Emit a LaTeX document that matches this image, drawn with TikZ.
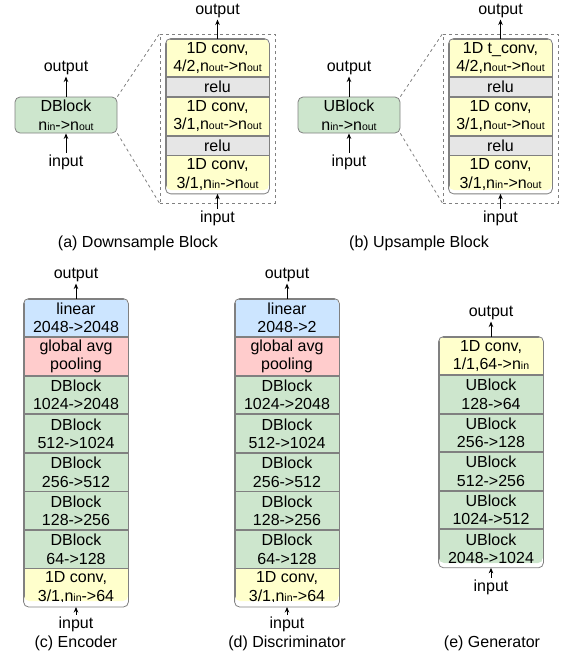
\documentclass[tikz,border=0pt]{standalone}
\usepackage{fontspec}
\setmainfont{Liberation Sans}
\usetikzlibrary{positioning,arrows.meta}
\definecolor{blkgreen}{HTML}{CDE6CD}
\definecolor{convyellow}{HTML}{FFFFCC}
\definecolor{relugray}{HTML}{E6E6E6}
\definecolor{linblue}{HTML}{CCE5FF}
\definecolor{poolred}{HTML}{FFCCCC}
\definecolor{edgegray}{HTML}{808080}
\newcommand{\sm}[1]{{\fontsize{10.5pt}{10.5pt}\selectfont #1}}
\begin{document}
\begin{tikzpicture}[x=1pt, y=-1pt,
font=\fontsize{16pt}{18.5pt}\selectfont,
layer/.style={rectangle, draw=edgegray, line width=0.8pt, inner sep=0pt, minimum width=104pt, minimum height=37.75pt, align=center},
convnode/.style={layer, fill=convyellow},
relunode/.style={layer, fill=relugray, minimum height=19pt},
blocknode/.style={layer, fill=blkgreen},
linnode/.style={layer, fill=linblue},
poolnode/.style={layer, fill=poolred},
txt/.style={inner sep=1.5pt},
to/.style={-{Stealth[length=5.5pt,width=4.5pt]},line width=0.9pt},
frame/.style={draw=edgegray, line width=0.8pt, rounded corners=5pt},
dashbox/.style={draw=edgegray, dashed, line width=0.8pt},
]
\useasboundingbox (0,0) rectangle (561,662);
%(a) downsample block
\node[blocknode, rounded corners=5pt, minimum width=102pt, minimum height=36pt](dblk) at (66,115) {DBlock\\n\sm{in}->n\sm{out}};
\node[txt](dout) at (66,68) {output};
\node[txt](din) at (66,162) {input};
\node[dashbox, minimum width=115pt, minimum height=169pt](dfrm) at (217.5,118.5) {};
\begin{scope}
\clip[rounded corners=5pt] (166,39) rectangle (269,190);
\node[convnode, minimum width=103pt](da1) at (217.5,57.875) {1D conv,\\4/2,n\sm{out}->n\sm{out}};
\node[relunode, minimum width=103pt, below=0pt of da1](da2) {relu};
\node[convnode, minimum width=103pt, below=0pt of da2](da3) {1D conv,\\3/1,n\sm{out}->n\sm{out}};
\node[relunode, minimum width=103pt, below=0pt of da3](da4) {relu};
\node[convnode, minimum width=103pt, below=0pt of da4](da5) {1D conv,\\3/1,n\sm{in}->n\sm{out}};
\end{scope}
\draw[frame] (da1.north west) rectangle (da5.south east);
\node[txt](daout) at (217.5,11) {output};
\node[txt](dain) at (217.5,218) {input};
\node(capa) at (138,243) {(a) Downsample Block};
%(b) upsample block
\node[blocknode, rounded corners=5pt, minimum width=102pt, minimum height=36pt](ublk) at (349,115) {UBlock\\n\sm{in}->n\sm{out}};
\node[txt](uout) at (349,68) {output};
\node[txt](uin) at (349,162) {input};
\node[dashbox, minimum width=115pt, minimum height=169pt](ufrm) at (500.5,118.5) {};
\begin{scope}
\clip[rounded corners=5pt] (449,39) rectangle (552,190);
\node[convnode, minimum width=103pt](ua1) at (500.5,57.875) {1D t\_conv,\\4/2,n\sm{out}->n\sm{out}};
\node[relunode, minimum width=103pt, below=0pt of ua1](ua2) {relu};
\node[convnode, minimum width=103pt, below=0pt of ua2](ua3) {1D conv,\\3/1,n\sm{out}->n\sm{out}};
\node[relunode, minimum width=103pt, below=0pt of ua3](ua4) {relu};
\node[convnode, minimum width=103pt, below=0pt of ua4](ua5) {1D conv,\\3/1,n\sm{in}->n\sm{out}};
\end{scope}
\draw[frame] (ua1.north west) rectangle (ua5.south east);
\node[txt](uaout) at (500.5,11) {output};
\node[txt](uain) at (500.5,218) {input};
\node(capb) at (419,243) {(b) Upsample Block};
%(c) encoder
\begin{scope}
\clip[rounded corners=5pt] (24,299) rectangle (128,601);
\node[linnode](e8) at (76,317.875) {linear\\2048->2048};
\node[poolnode, below=0pt of e8](e7) {global avg\\pooling};
\node[blocknode, below=0pt of e7](e6) {DBlock\\1024->2048};
\node[blocknode, below=0pt of e6](e5) {DBlock\\512->1024};
\node[blocknode, below=0pt of e5](e4) {DBlock\\256->512};
\node[blocknode, below=0pt of e4](e3) {DBlock\\128->256};
\node[blocknode, below=0pt of e3](e2) {DBlock\\64->128};
\node[convnode, below=0pt of e2](e1) {1D conv,\\3/1,n\sm{in}->64};
\end{scope}
\draw[frame] (e8.north west) rectangle (e1.south east);
\node[txt](eout) at (76,275) {output};
\node[txt](ein) at (76,624) {input};
\node(capc) at (76,643) {(c) Encoder};
%(d) discriminator
\begin{scope}
\clip[rounded corners=5pt] (235,299) rectangle (339,601);
\node[linnode](s8) at (287,317.875) {linear\\2048->2};
\node[poolnode, below=0pt of s8](s7) {global avg\\pooling};
\node[blocknode, below=0pt of s7](s6) {DBlock\\1024->2048};
\node[blocknode, below=0pt of s6](s5) {DBlock\\512->1024};
\node[blocknode, below=0pt of s5](s4) {DBlock\\256->512};
\node[blocknode, below=0pt of s4](s3) {DBlock\\128->256};
\node[blocknode, below=0pt of s3](s2) {DBlock\\64->128};
\node[convnode, below=0pt of s2](s1) {1D conv,\\3/1,n\sm{in}->64};
\end{scope}
\draw[frame] (s8.north west) rectangle (s1.south east);
\node[txt](sout) at (287,275) {output};
\node[txt](sin) at (287,624) {input};
\node(capd) at (287,643) {(d) Discriminator};
%(e) generator
\begin{scope}
\clip[rounded corners=5pt] (439,337) rectangle (543,563);
\node[convnode](g6) at (491,355.8) {1D conv,\\1/1,64->n\sm{in}};
\node[blocknode, below=0pt of g6](g5) {UBlock\\128->64};
\node[blocknode, below=0pt of g5](g4) {UBlock\\256->128};
\node[blocknode, below=0pt of g4](g3) {UBlock\\512->256};
\node[blocknode, below=0pt of g3](g2) {UBlock\\1024->512};
\node[blocknode, below=0pt of g2](g1) {UBlock\\2048->1024};
\end{scope}
\draw[frame] (g6.north west) rectangle (g1.south east);
\node[txt](gout) at (491,313) {output};
\node[txt](gin) at (491,587) {input};
\node(cape) at (492,643) {(e) Generator};
%connections
\draw[to] (dblk) -- (dout);
\draw[to] (din) -- (dblk);
\draw[dashbox] (dblk.north east) -- (dfrm.north west);
\draw[dashbox] (dblk.south east) -- (dfrm.south west);
\draw[to] (da1.north) -- (daout);
\draw[to] (dain) -- (da5.south);
\draw[to] (ublk) -- (uout);
\draw[to] (uin) -- (ublk);
\draw[dashbox] (ublk.north east) -- (ufrm.north west);
\draw[dashbox] (ublk.south east) -- (ufrm.south west);
\draw[to] (ua1.north) -- (uaout);
\draw[to] (uain) -- (ua5.south);
\draw[to] (e8.north) -- (eout);
\draw[to] (ein) -- (e1.south);
\draw[to] (s8.north) -- (sout);
\draw[to] (sin) -- (s1.south);
\draw[to] (g6.north) -- (gout);
\draw[to] (gin) -- (g1.south);
\end{tikzpicture}
\end{document}
